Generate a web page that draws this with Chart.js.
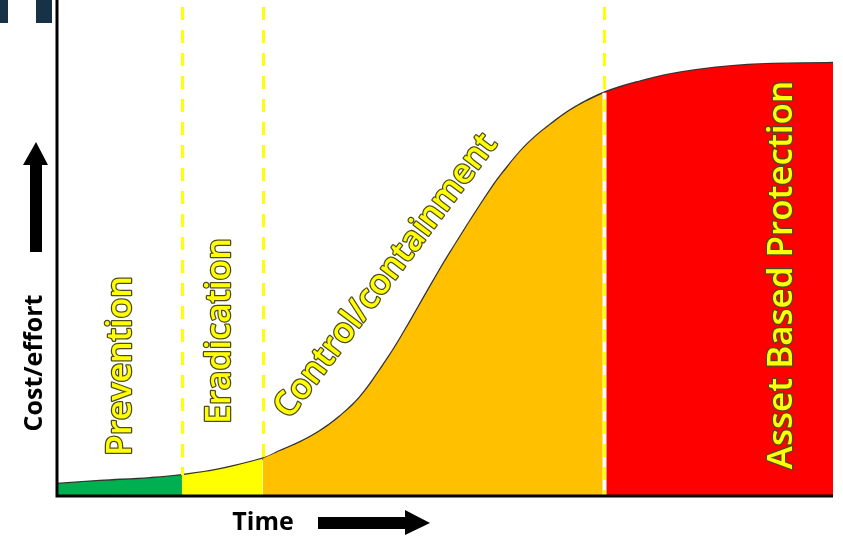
<!DOCTYPE html>
<html>
<head>
<meta charset="utf-8">
<script src="https://cdn.jsdelivr.net/npm/chart.js@4.4.0/dist/chart.umd.min.js"></script>
<style>
  html, body { margin: 0; padding: 0; background: #fff; }
  #wrap { width: 843px; height: 537px; position: relative; }
</style>
</head>
<body>
<div id="wrap"><canvas id="curveChart"></canvas></div>
<script>
// time (0-100) and cost/effort (0-100)
var timePoints = [0, 5.5, 12, 16.1, 21, 26.5, 28.8, 31.4, 33.9, 36.5, 39.1, 42.1, 44.3, 48.5, 50.7, 55.9, 58.1, 60.6, 63.6, 66.6, 70.5, 75.2, 80.4, 89, 100];
var costValues = [2.4, 3.0, 3.6, 4.2, 5.4, 7.5, 9.1, 10.9, 13.1, 16.1, 20.0, 26.5, 31.9, 43.3, 49.1, 61.8, 66.4, 70.9, 74.9, 78.2, 81.3, 83.6, 85.4, 86.9, 87.3];

var phaseNames = ["Prevention", "Eradication", "Control/containment", "Asset Based Protection"];
var phaseStarts = [0, 16.1, 26.5, 70.5];
var phaseEnds = [16.1, 26.5, 70.5, 100];
var phaseColors = ["#00B050", "#FFFF00", "#FFC000", "#FF0000"];

function costAt(t) {
    var i = timePoints.indexOf(t);
    return costValues[i];
}

function segment(a, b) {
    var pts = [];
    for (var i = 0; i < timePoints.length; i++) {
        if (timePoints[i] >= a && timePoints[i] <= b) pts.push({x: timePoints[i], y: costValues[i]});
    }
    return pts;
}

var datasets = phaseNames.map(function (name, i) {
    return {
        label: name,
        data: segment(phaseStarts[i], phaseEnds[i]),
        backgroundColor: phaseColors[i],
        borderWidth: 0,
        pointRadius: 0,
        fill: 'origin',
        tension: 0.4
    };
});

datasets.push({
    label: 'curve',
    data: segment(0, 100),
    borderColor: '#333333',
    borderWidth: 2.5,
    pointRadius: 0,
    fill: false,
    tension: 0.4
});

var decor = {
    id: 'decor',
    beforeDraw: function (chart) {
        var ctx = chart.ctx;
        ctx.save();
        ctx.fillStyle = '#fff';
        ctx.fillRect(0, 0, chart.width, chart.height);
        ctx.restore();
    },
    afterDatasetsDraw: function (chart) {
        var ctx = chart.ctx, a = chart.chartArea;
        var xs = chart.scales.x, ys = chart.scales.y;
        ctx.save();

        // dashed phase boundaries
        [phaseStarts[1], phaseStarts[2], phaseStarts[3]].forEach(function (t, i) {
            var px = Math.round(xs.getPixelForValue(t)) + 0.5;
            var bottom = i == 2 ? a.bottom : ys.getPixelForValue(costAt(t));
            if (i == 2) {
                ctx.strokeStyle = '#fff';
                ctx.lineWidth = 4;
                ctx.setLineDash([]);
                ctx.beginPath(); ctx.moveTo(px, ys.getPixelForValue(costAt(t))); ctx.lineTo(px, bottom); ctx.stroke();
            }
            ctx.strokeStyle = '#FFFF00';
            ctx.lineWidth = 3;
            ctx.setLineDash([13, 10]);
            ctx.beginPath(); ctx.moveTo(px, 7); ctx.lineTo(px, bottom); ctx.stroke();
        });
        ctx.setLineDash([]);

        // axes
        ctx.strokeStyle = '#000';
        ctx.lineWidth = 3;
        ctx.beginPath();
        ctx.moveTo(a.left, 0);
        ctx.lineTo(a.left, a.bottom);
        ctx.lineTo(a.right, a.bottom);
        ctx.stroke();

        // phase labels
        function label(text, x, y, angle, size) {
            ctx.save();
            ctx.translate(x, y);
            ctx.rotate(angle * Math.PI / 180);
            ctx.font = '600 ' + size + 'px "Open Sans"';
            ctx.textAlign = 'center';
            ctx.textBaseline = 'middle';
            ctx.lineJoin = 'round';
            ctx.strokeStyle = '#4d4a20';
            ctx.lineWidth = 2.5;
            ctx.strokeText(text, 0, 0);
            ctx.fillStyle = '#FFFF00';
            ctx.fillText(text, 0, 0);
            ctx.restore();
        }
        label(phaseNames[0], 121, 366, -90, 34);
        label(phaseNames[1], 220, 331, -90, 34);
        label(phaseNames[2], 386, 276, -53, 34);
        label(phaseNames[3], 782, 275, -90, 35);

        // axis titles
        ctx.fillStyle = '#000';
        ctx.font = 'bold 25px "Open Sans"';
        ctx.textAlign = 'center';
        ctx.textBaseline = 'middle';
        ctx.save();
        ctx.translate(35, 363);
        ctx.rotate(-Math.PI / 2);
        ctx.fillText('Cost/effort', 0, 0);
        ctx.restore();
        ctx.fillText('Time', 263, 523);

        // arrows
        ctx.beginPath();
        ctx.moveTo(30, 252); ctx.lineTo(30, 165); ctx.lineTo(23, 165); ctx.lineTo(36, 142);
        ctx.lineTo(48, 165); ctx.lineTo(42, 165); ctx.lineTo(42, 252); ctx.closePath();
        ctx.fill();
        ctx.beginPath();
        ctx.moveTo(318, 517); ctx.lineTo(405, 517); ctx.lineTo(405, 510); ctx.lineTo(430, 523);
        ctx.lineTo(405, 535); ctx.lineTo(405, 529); ctx.lineTo(318, 529); ctx.closePath();
        ctx.fill();

        // corner marks
        ctx.fillStyle = '#173246';
        ctx.fillRect(0, 0, 8, 23);
        ctx.fillRect(36, 0, 16, 23);
        ctx.restore();
    }
};

var ctx = document.getElementById('curveChart').getContext('2d');
new Chart(ctx, {
    type: 'line',
    data: { datasets: datasets },
    options: {
        responsive: true,
        maintainAspectRatio: false,
        animation: false,
        layout: { padding: { left: 57, right: 10, top: 0, bottom: 41 } },
        plugins: { legend: { display: false }, tooltip: { enabled: false } },
        scales: {
            x: { type: 'linear', min: 0, max: 100, display: false },
            y: { min: 0, max: 100, display: false }
        }
    },
    plugins: [decor]
});
</script>
</body>
</html>
